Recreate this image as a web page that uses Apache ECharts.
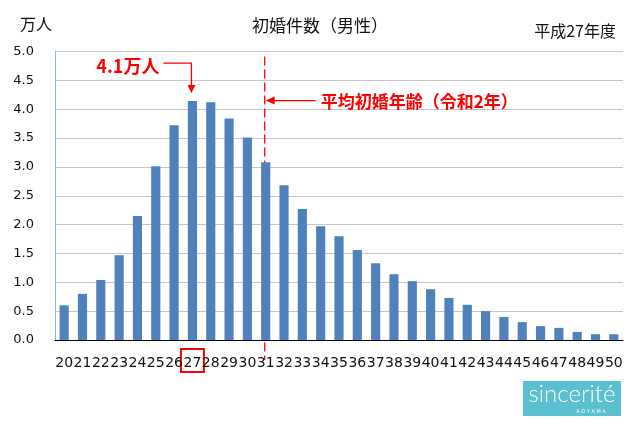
<!DOCTYPE html>
<html>
<head>
<meta charset="utf-8">
<script src="https://cdn.jsdelivr.net/npm/echarts@6/dist/echarts.min.js"></script>
<style>html,body{margin:0;padding:0;background:#fff}#c{width:640px;height:425px}</style>
</head>
<body>
<div id="c"></div>
<script>
// ---- data ----
const ages = ['20','21','22','23','24','25','26','27','28','29','30','31','32','33','34','35','36','37','38','39','40','41','42','43','44','45','46','47','48','49','50'];
const marriages = [0.60,0.80,1.04,1.47,2.15,3.01,3.72,4.14,4.12,3.84,3.51,3.08,2.68,2.27,1.97,1.80,1.56,1.33,1.14,1.02,0.88,0.73,0.61,0.50,0.40,0.31,0.24,0.21,0.14,0.10,0.10];
const yTicks = [0,0.5,1,1.5,2,2.5,3,3.5,4,4.5,5];
const peakAge = '27';
const peakLabel = '4.1万人';
const meanAge = '31';
const meanLabel = '平均初婚年齢（令和2年）';
const titleText = '初婚件数（男性）';
const unitText = '万人';
const yearText = '平成27年度';

const RED = '#ff0000';
const CJK = '"Noto Sans CJK JP","Noto Sans",sans-serif';
const chart = echarts.init(document.getElementById('c'), null, {renderer:'canvas'});
const option = {
  animation:false,
  title:{text:titleText,left:'center',top:12,textStyle:{fontSize:17,fontWeight:'normal',color:'#111',fontFamily:CJK}},
  grid:{left:55,right:17,top:51.5,bottom:85},
  xAxis:{type:'category',data:ages,
    axisTick:{show:false},
    axisLine:{lineStyle:{color:'#000',width:1}},
    axisLabel:{interval:0,color:'#111',fontSize:14,fontFamily:'"DejaVu Sans",sans-serif',margin:16}},
  yAxis:{type:'value',min:yTicks[0],max:yTicks[yTicks.length-1],interval:yTicks[1]-yTicks[0],
    axisLine:{show:true,lineStyle:{color:'#8db3e2',width:1}},
    axisTick:{show:false},
    splitLine:{lineStyle:{color:'#c6c6c6',width:1}},
    axisLabel:{formatter:v=>v.toFixed(1),color:'#111',fontSize:13,fontFamily:'"DejaVu Sans",sans-serif',margin:21}},
  series:[{type:'bar',data:marriages,barWidth:'50%',itemStyle:{color:'#4f81bd'}}]
};
chart.setOption(option);

// annotations positioned through the chart's scales
const pi = ages.indexOf(peakAge);
const peakTop = chart.convertToPixel({seriesIndex:0},[pi,marriages[pi]]);
const px = peakTop[0]-1;
const y0 = chart.convertToPixel({yAxisIndex:0},0);
const yTop = chart.convertToPixel({yAxisIndex:0},5);
const yA1 = chart.convertToPixel({yAxisIndex:0},4.8);
const yA2 = chart.convertToPixel({yAxisIndex:0},4.15);
const mx = chart.convertToPixel({xAxisIndex:0},meanAge)-1;
const tipY = peakTop[1]-8;

chart.setOption({graphic:[
  {type:'text',left:20,top:16,style:{text:unitText,fill:'#111',font:'16px '+CJK}},
  {type:'text',right:24,top:23,style:{text:yearText,fill:'#111',font:'16px '+CJK}},
  // peak annotation
  {type:'text',style:{text:peakLabel,x:px-32,y:yA1+3,align:'right',verticalAlign:'middle',fill:RED,font:'bold 18px '+CJK}},
  {type:'polyline',shape:{points:[[px-28,yA1],[px,yA1],[px,tipY-7]]},style:{stroke:RED,lineWidth:1.3,fill:null}},
  {type:'polygon',shape:{points:[[px-4,tipY-8],[px+4,tipY-8],[px,tipY]]},style:{fill:RED}},
  // mean age dashed line
  {type:'line',shape:{x1:mx,y1:yTop+5,x2:mx,y2:y0+20},style:{stroke:RED,lineWidth:1.3,lineDash:[9,4]}},
  {type:'line',shape:{x1:mx+9,y1:yA2,x2:mx+51,y2:yA2},style:{stroke:RED,lineWidth:1.3}},
  {type:'polygon',shape:{points:[[mx+1,yA2],[mx+10,yA2-4],[mx+10,yA2+4]]},style:{fill:RED}},
  {type:'text',style:{text:meanLabel,x:mx+56,y:yA2+1,verticalAlign:'middle',fill:RED,font:'bold 17px '+CJK}},
  // box around peak age label
  {type:'rect',shape:{x:peakTop[0]-11.5,y:y0+9,width:23,height:23},style:{fill:null,stroke:RED,lineWidth:2}},
  // logo
  {type:'rect',shape:{x:523,y:381,width:98,height:35},style:{fill:'#5bc1d1'}},
  {type:'text',style:{text:'sincerité',x:572,y:394,align:'center',verticalAlign:'middle',fill:'#fff',font:'300 24px Lato, "Open Sans", sans-serif'}},
  {type:'text',style:{text:'A O Y A M A',x:591,y:412,align:'center',verticalAlign:'middle',fill:'#fff',font:'5px "DejaVu Sans", sans-serif'}}
]});
</script>
</body>
</html>
